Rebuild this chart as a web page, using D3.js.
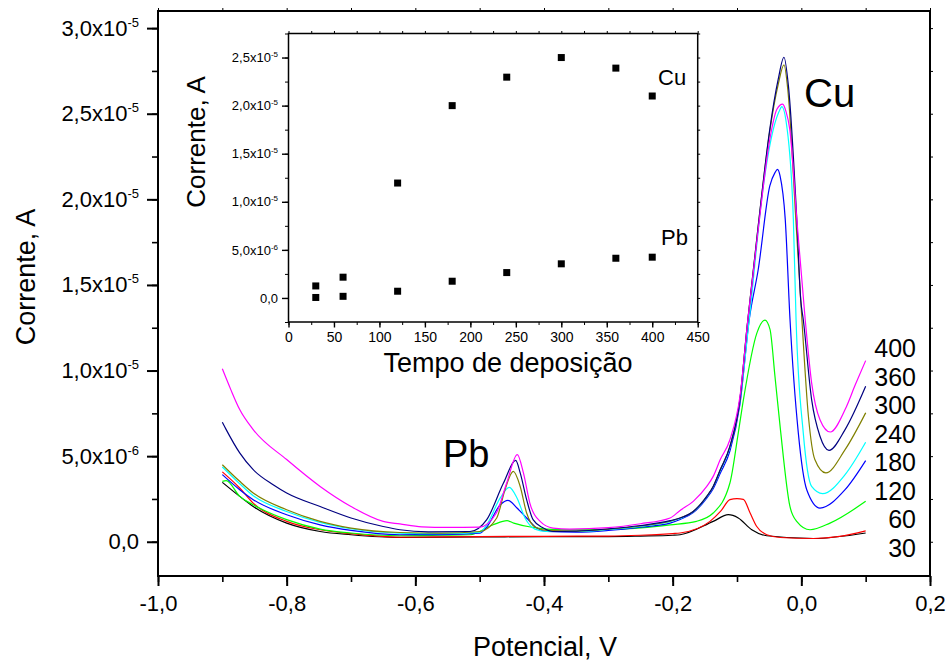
<!DOCTYPE html>
<html><head><meta charset="utf-8">
<script src="https://cdn.jsdelivr.net/npm/d3@7"></script>
<style>
body{margin:0;background:#fff}
text{font-family:"Liberation Sans",Arial,Helvetica,sans-serif;fill:#000}
</style>
</head><body>
<svg id="chart" width="949" height="662"></svg>
<script>
// ---------------- DATA ----------------
// Main chart: potential (V) vs current (µA, i.e. 1e-6 A), one array per deposition time
const curveLabels = ["400","360","300","240","180","120","60","30"];
const curveColors = ["#ff00ff","#000080","#808000","#00ffff","#0000ff","#00ff00","#ff0000","#000000"];

const c400 = [[-0.9,10.1],[-0.887,8.9],[-0.873,7.72],[-0.852,6.55],[-0.8,4.8],[-0.748,3.23],[-0.7,2.06],[-0.65,1.19],[-0.624,1.04],[-0.59,0.87],[-0.55,0.84],[-0.5,0.86],[-0.474,1.68],[-0.458,3.43],[-0.4415,5.09],[-0.432,4.02],[-0.422,2.26],[-0.406,1.19],[-0.386,0.80],[-0.36,0.74],[-0.3,0.82],[-0.25,1.05],[-0.204,1.39],[-0.1885,1.83],[-0.168,2.36],[-0.147,3.23],[-0.137,3.82],[-0.126,4.80],[-0.111,5.96],[-0.095,8.6],[-0.083,13.0],[-0.067,18.25],[-0.049,23.5],[-0.038,25.26],[-0.029,25.56],[-0.024,25.15],[-0.018,24.1],[-0.007,18.83],[0.006,12.98],[0.016,9.28],[0.029,7.13],[0.045,6.41],[0.068,7.72],[0.084,9.18],[0.1,10.58]];

const c360 = [[-0.9,6.98],[-0.894,6.55],[-0.873,5.19],[-0.852,4.21],[-0.821,3.33],[-0.8,2.85],[-0.748,2.06],[-0.7,1.39],[-0.65,0.89],[-0.624,0.70],[-0.58,0.58],[-0.515,0.60],[-0.489,1.29],[-0.463,3.43],[-0.444,4.75],[-0.437,4.02],[-0.427,2.46],[-0.417,1.29],[-0.401,0.80],[-0.386,0.60],[-0.35,0.62],[-0.3,0.75],[-0.25,0.95],[-0.204,1.23],[-0.1885,1.39],[-0.168,1.77],[-0.147,2.65],[-0.137,3.23],[-0.126,4.21],[-0.111,5.57],[-0.0955,8.30],[-0.0845,12.5],[-0.067,18.44],[-0.049,24.1],[-0.036,27.0],[-0.027,28.3],[-0.020,26.6],[-0.007,18.8],[-0.001,14.15],[0.003,12.98],[0.016,8.30],[0.029,6.16],[0.043,5.34],[0.068,6.55],[0.1,9.08]];

const c300 = [[-0.9,4.5],[-0.873,3.53],[-0.852,2.85],[-0.8,1.87],[-0.748,1.19],[-0.7,0.80],[-0.624,0.54],[-0.56,0.5],[-0.4995,0.60],[-0.4735,1.39],[-0.4606,3.04],[-0.4477,4.11],[-0.437,3.23],[-0.427,1.68],[-0.414,0.86],[-0.396,0.66],[-0.35,0.62],[-0.3,0.74],[-0.25,0.92],[-0.204,1.2],[-0.1885,1.39],[-0.168,1.77],[-0.147,2.65],[-0.137,3.23],[-0.126,4.21],[-0.111,5.57],[-0.0955,8.30],[-0.0845,12.5],[-0.067,18.44],[-0.049,24.0],[-0.036,26.7],[-0.027,27.85],[-0.021,26.4],[-0.0085,18.8],[-0.001,14.15],[0.011,7.33],[0.021,4.80],[0.038,4.02],[0.068,5.38],[0.1,7.53]];

const c240 = [[-0.9,4.37],[-0.873,3.39],[-0.852,2.69],[-0.8,1.77],[-0.748,1.13],[-0.7,0.76],[-0.624,0.51],[-0.56,0.48],[-0.5,0.55],[-0.489,0.99],[-0.468,2.56],[-0.454,3.18],[-0.442,2.56],[-0.4295,1.39],[-0.414,0.74],[-0.396,0.60],[-0.35,0.6],[-0.3,0.72],[-0.25,0.9],[-0.204,1.18],[-0.1885,1.36],[-0.168,1.75],[-0.147,2.62],[-0.137,3.2],[-0.126,4.15],[-0.111,5.5],[-0.0955,8.2],[-0.081,12.98],[-0.059,20.78],[-0.0435,24.1],[-0.033,25.26],[-0.0305,25.42],[-0.0227,24.29],[-0.0124,18.83],[-0.0082,12.98],[0.003,6.36],[0.016,3.23],[0.033,2.81],[0.068,3.92],[0.1,5.81]];

const c180 = [[-0.9,3.92],[-0.873,3.04],[-0.852,2.46],[-0.8,1.58],[-0.748,0.99],[-0.7,0.66],[-0.624,0.41],[-0.56,0.42],[-0.5,0.5],[-0.489,0.86],[-0.468,2.16],[-0.456,2.42],[-0.442,1.97],[-0.427,1.39],[-0.411,0.80],[-0.396,0.60],[-0.35,0.56],[-0.3,0.66],[-0.25,0.85],[-0.204,1.09],[-0.1885,1.30],[-0.168,1.7],[-0.147,2.55],[-0.137,3.1],[-0.126,4.0],[-0.111,5.3],[-0.0955,8.0],[-0.081,12.98],[-0.067,15.9],[-0.049,20.78],[-0.041,21.56],[-0.037,21.75],[-0.033,21.36],[-0.025,18.83],[-0.0176,12.98],[-0.0047,6.36],[0.0084,3.04],[0.029,1.97],[0.068,3.04],[0.1,4.74]];

const c120 = [[-0.9,3.53],[-0.894,3.57],[-0.873,2.65],[-0.852,2.16],[-0.8,1.29],[-0.748,0.74],[-0.7,0.51],[-0.624,0.35],[-0.56,0.38],[-0.515,0.41],[-0.479,0.99],[-0.4575,1.23],[-0.447,1.09],[-0.421,0.86],[-0.396,0.74],[-0.36,0.70],[-0.282,0.74],[-0.204,0.99],[-0.163,1.19],[-0.137,1.68],[-0.111,3.43],[-0.098,6.36],[-0.090,8.30],[-0.069,12.2],[-0.0566,12.94],[-0.0487,12.4],[-0.041,9.67],[-0.033,6.74],[-0.0177,2.06],[-0.0072,1.19],[0.0135,0.70],[0.0446,1.09],[0.1,2.36]];

const c60 = [[-0.9,4.08],[-0.873,3.14],[-0.852,2.26],[-0.8,1.19],[-0.748,0.70],[-0.7,0.47],[-0.624,0.27],[-0.5,0.3],[-0.4,0.32],[-0.3,0.33],[-0.25,0.38],[-0.2,0.48],[-0.1885,0.51],[-0.142,1.19],[-0.125,1.8],[-0.111,2.46],[-0.1,2.52],[-0.0902,2.48],[-0.0796,1.68],[-0.0693,0.89],[-0.0538,0.41],[-0.033,0.25],[0.0187,0.19],[0.0597,0.31],[0.1,0.64]];

const c30 = [[-0.9,3.47],[-0.873,2.65],[-0.852,2.06],[-0.8,1.09],[-0.748,0.60],[-0.7,0.41],[-0.624,0.25],[-0.5,0.28],[-0.4,0.3],[-0.3,0.3],[-0.25,0.33],[-0.2,0.38],[-0.1885,0.41],[-0.137,1.19],[-0.1135,1.58],[-0.098,1.39],[-0.077,0.70],[-0.0538,0.35],[0.0187,0.19],[0.1,0.51]];

const curves = [c400, c360, c300, c240, c180, c120, c60, c30];

// Main axes ticks
const mainXTicks = [-1.0,-0.8,-0.6,-0.4,-0.2,0.0,0.2];
const mainXTickLabels = ["-1,0","-0,8","-0,6","-0,4","-0,2","0,0","0,2"];
const mainYTicks = [0,5e-6,1e-5,1.5e-5,2e-5,2.5e-5,3e-5];
const mainYMant = ["0,0","5,0","1,0","1,5","2,0","2,5","3,0"];
const mainYExp = ["","-6","-5","-5","-5","-5","-5"];

// Inset: peak current vs deposition time
const insetTime = [30,60,120,180,240,300,360,400];
const insetCu = [1.25e-6,2.16e-6,1.195e-5,2.0e-5,2.296e-5,2.5e-5,2.39e-5,2.1e-5];
const insetPb = [0.05e-6,0.17e-6,0.7e-6,1.74e-6,2.64e-6,3.55e-6,4.13e-6,4.24e-6];
const insetXTicks = [0,50,100,150,200,250,300,350,400,450];
const insetYTicks = [0,5e-6,1e-5,1.5e-5,2e-5,2.5e-5];
const insetYMant = ["0,0","5,0","1,0","1,5","2,0","2,5"];
const insetYExp = ["","-6","-5","-5","-5","-5"];

// ---------------- DRAWING ----------------
const svg = d3.select("#chart");
const FONT = '"Liberation Sans",Arial,Helvetica,sans-serif';

const x = d3.scaleLinear().domain([-1.0,0.2]).range([158,930]);
const y = d3.scaleLinear().domain([-2e-6,3.1e-5]).range([576,11]);

function range(a,b,s){const r=[];for(let v=a;v<=b+1e-12;v+=s)r.push(+v.toFixed(10));return r;}

function supLabels(g, mant, exp, supSize, rise){
  g.selectAll(".tick text").each(function(d,i){
    const t=d3.select(this); t.text(null);
    t.append("tspan").text(mant[i] + (exp[i] ? "x10" : ""));
    if(exp[i]) t.append("tspan").attr("dy",-rise).attr("font-size",supSize).text(exp[i]);
  });
}
function clean(g){ g.select(".domain").remove(); g.selectAll("line").attr("stroke","#000"); }

// main curves (draw from 30 to 400 so higher ones are on top)
const line = d3.line().x(d=>x(d[0])).y(d=>y(d[1]*1e-6)).curve(d3.curveMonotoneX);
const gCurves = svg.append("g");
for(let i=curves.length-1;i>=0;i--){
  gCurves.append("path").attr("d",line(curves[i])).attr("fill","none")
    .attr("stroke",curveColors[i]).attr("stroke-width",1.2).attr("stroke-linejoin","round");
}

// main axes
const minorX = range(-1.0,0.2,0.1);
const minorY = range(-2.5e-6,3.0e-5,2.5e-6).filter(v=>v>=-2e-6);
let g;
g = svg.append("g").attr("transform","translate(0,576)")
  .call(d3.axisBottom(x).tickValues(minorX).tickSize(6).tickFormat("")); clean(g); g.selectAll("line").attr("stroke-width",1.6);
g = svg.append("g").attr("transform","translate(0,576)")
  .call(d3.axisBottom(x).tickValues(mainXTicks).tickSize(10).tickPadding(9).tickFormat((d,i)=>mainXTickLabels[i]));
clean(g); g.selectAll("line").attr("stroke-width",2);
g.selectAll("text").attr("font-size",22).attr("font-family",FONT);

g = svg.append("g").attr("transform","translate(158,0)")
  .call(d3.axisLeft(y).tickValues(minorY).tickSize(6).tickFormat("")); clean(g); g.selectAll("line").attr("stroke-width",1.6);
g = svg.append("g").attr("transform","translate(158,0)")
  .call(d3.axisLeft(y).tickValues(mainYTicks).tickSize(11).tickPadding(8).tickFormat((d,i)=>mainYMant[i]));
clean(g); g.selectAll("line").attr("stroke-width",2);
g.selectAll("text").attr("font-size",22).attr("font-family",FONT);
supLabels(g, mainYMant, mainYExp, 13, 9);

// top & right small ticks
g = svg.append("g").attr("transform","translate(0,11)")
  .call(d3.axisTop(x).tickValues(minorX).tickSize(3).tickFormat("")); clean(g);
g = svg.append("g").attr("transform","translate(930,0)")
  .call(d3.axisRight(y).tickValues(minorY).tickSize(3).tickFormat("")); clean(g);

svg.append("rect").attr("x",158).attr("y",11).attr("width",930-158).attr("height",576-11)
  .attr("fill","none").attr("stroke","#000").attr("stroke-width",2);

// axis titles
svg.append("text").attr("transform","translate(35,277) rotate(-90)").attr("text-anchor","middle")
  .attr("font-size",27).text("Corrente, A");
svg.append("text").attr("x",545).attr("y",656).attr("text-anchor","middle")
  .attr("font-size",27).text("Potencial, V");

// curve labels on right
const labelBaselines = [357,385.5,414,442.5,471,499.5,528,556.5];
curveLabels.forEach((t,i)=>{
  svg.append("text").attr("x",916).attr("y",labelBaselines[i]).attr("text-anchor","end")
    .attr("font-size",25).text(t);
});
svg.append("text").attr("x",804).attr("y",107).attr("font-size",40).text("Cu");
svg.append("text").attr("x",443).attr("y",467).attr("font-size",38).text("Pb");

// ---------------- INSET ----------------
const xi = d3.scaleLinear().domain([0,450]).range([288.5,697.7]);
const yi = d3.scaleLinear().domain([-2.5e-6,2.75e-5]).range([322,33.5]);
const inset = svg.append("g");
inset.append("rect").attr("x",288.5).attr("y",33.5).attr("width",697.7-288.5).attr("height",322-33.5)
  .attr("fill","#fff").attr("stroke","none");

const minorXi = range(0,450,25);
const minorYi = range(-2.5e-6,2.75e-5,2.5e-6);
g = inset.append("g").attr("transform","translate(0,322)")
  .call(d3.axisBottom(xi).tickValues(minorXi).tickSize(3).tickFormat("")); clean(g);
g = inset.append("g").attr("transform","translate(0,322)")
  .call(d3.axisBottom(xi).tickValues(insetXTicks).tickSize(5.5).tickPadding(5).tickFormat(d=>String(d)));
clean(g); g.selectAll("line").attr("stroke-width",1.4);
g.selectAll("text").attr("font-size",14).attr("font-family",FONT);

g = inset.append("g").attr("transform","translate(288.5,0)")
  .call(d3.axisLeft(yi).tickValues(minorYi).tickSize(3.5).tickFormat("")); clean(g);
g = inset.append("g").attr("transform","translate(288.5,0)")
  .call(d3.axisLeft(yi).tickValues(insetYTicks).tickSize(6.5).tickPadding(4).tickFormat((d,i)=>insetYMant[i]));
clean(g); g.selectAll("line").attr("stroke-width",1.4);
g.selectAll("text").attr("font-size",13).attr("font-family",FONT);
supLabels(g, insetYMant, insetYExp, 8, 5);

g = inset.append("g").attr("transform","translate(0,33.5)")
  .call(d3.axisTop(xi).tickValues(minorXi).tickSize(2.5).tickFormat("")); clean(g);
g = inset.append("g").attr("transform","translate(697.7,0)")
  .call(d3.axisRight(yi).tickValues(minorYi).tickSize(2.5).tickFormat("")); clean(g);

inset.append("rect").attr("x",288.5).attr("y",33.5).attr("width",697.7-288.5).attr("height",322-33.5)
  .attr("fill","none").attr("stroke","#000").attr("stroke-width",1.5);

const sq = 7;
inset.selectAll("rect.cu").data(insetTime).enter().append("rect").attr("class","cu")
  .attr("x",(d)=>xi(d)-sq/2).attr("y",(d,i)=>yi(insetCu[i])-sq/2).attr("width",sq).attr("height",sq).attr("fill","#000");
inset.selectAll("rect.pb").data(insetTime).enter().append("rect").attr("class","pb")
  .attr("x",(d)=>xi(d)-sq/2).attr("y",(d,i)=>yi(insetPb[i])-sq/2).attr("width",sq).attr("height",sq).attr("fill","#000");

inset.append("text").attr("x",658).attr("y",85).attr("font-size",22).text("Cu");
inset.append("text").attr("x",661).attr("y",245).attr("font-size",22).text("Pb");
inset.append("text").attr("transform","translate(205,142) rotate(-90)").attr("text-anchor","middle")
  .attr("font-size",26).text("Corrente, A");
inset.append("text").attr("x",508).attr("y",372).attr("text-anchor","middle")
  .attr("font-size",27).text("Tempo de deposição");
</script>
</body></html>
